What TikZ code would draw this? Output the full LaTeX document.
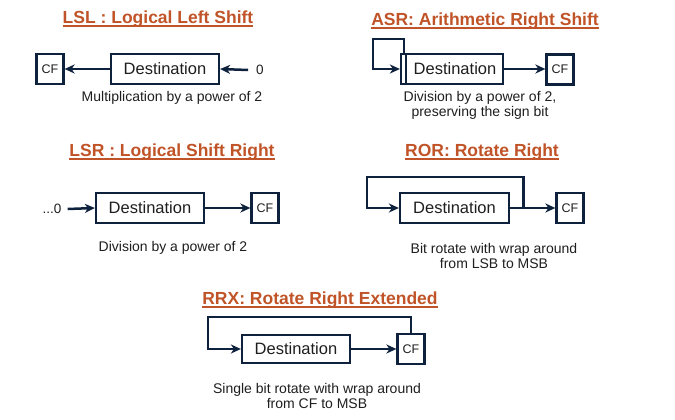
\documentclass[tikz,border=0pt]{standalone}
\usepackage{fontspec}
\setmainfont{Liberation Sans}
\usepackage{xcolor}
\usepackage{tikz}
\usetikzlibrary{positioning,calc,arrows.meta}
\definecolor{titlered}{RGB}{192,84,40}
\definecolor{boxnavy}{RGB}{14,34,62}
\definecolor{captext}{RGB}{30,30,30}
\newcommand{\ultitle}[1]{\setbox0\hbox{#1}\rlap{\vrule height -2pt depth 3.6pt width \wd0}\box0}

\begin{document}
\begin{tikzpicture}[
    x=1pt, y=-1pt,
    title/.style={font=\fontsize{17.5}{20}\selectfont\bfseries, text=titlered, inner sep=0},
    reg/.style={rectangle, draw=boxnavy, line width=2.2pt, minimum width=108pt, minimum height=30pt, inner sep=0, font=\fontsize{16.5}{18}\selectfont, text=captext},
    cf/.style={rectangle, draw=boxnavy, line width=2.2pt, minimum width=27pt, minimum height=30pt, inner sep=0, font=\fontsize{12.5}{14}\selectfont, text=captext},
    captxt/.style={align=center, font=\fontsize{14}{15}\selectfont, text=captext, inner sep=0},
    arr/.style={-{Stealth[length=10pt,width=9pt,inset=3pt]}, draw=boxnavy, line width=2.5pt}
]
    \useasboundingbox (0,0) rectangle (675,420);

    % LSL
    \node[title] (tLSL) at (158,19) {\ultitle{LSL : Logical Left Shift}};
    \node[reg] (dstA) at (165,69) {Destination};
    \node[cf] (cfA) at (50,69) {CF};
    \node[captxt, font=\fontsize{13.5}{15}\selectfont] (inA) at (260,70) {0};
    \coordinate (inAs) at ([xshift=-8pt]inA.west);
    \draw[arr] (dstA.west) -- (cfA.east);
    \draw[arr] (inAs) -- (dstA.east);
    \node[captxt] (capA) at (172,98) {Multiplication by a power of 2};

    % ASR
    \node[title] (tASR) at (485,21) {\ultitle{ASR: Arithmetic Right Shift}};
    \node[reg, minimum width=102pt] (dstB) at (452,69) {\hspace{6pt}Destination};
    \node[cf] (cfB) at (560,69.5) {CF};
    \draw[boxnavy, line width=2.2pt] ([xshift=6pt]dstB.north west) -- ([xshift=6pt]dstB.south west);
    \coordinate (loopB) at (373,39);
    \draw[arr] ([xshift=4pt]dstB.north west) |- (loopB) |- (dstB.west);
    \draw[arr] (dstB.east) -- (dstB.east -| cfB.west);
    \node[captxt] (capB) at (480,105.5) {Division by a power of 2,\\preserving the sign bit};

    % LSR
    \node[title] (tLSR) at (172,152) {\ultitle{LSR : Logical Shift Right}};
    \node[reg] (dstC) at (150,208) {Destination};
    \node[cf] (cfC) at (265,208) {CF};
    \node[captxt, font=\fontsize{13.5}{15}\selectfont] (inC) at (52,209) {...0};
    \coordinate (inCs) at ([xshift=6pt]inC.east);
    \draw[arr] (inCs) -- (dstC.west);
    \draw[arr] (dstC.east) -- (cfC.west);
    \node[captxt] (capC) at (173,248) {Division by a power of 2};

    % ROR
    \node[title] (tROR) at (482,152) {\ultitle{ROR: Rotate Right}};
    \node[reg, minimum width=109pt] (dstD) at (454.5,208) {Destination};
    \node[cf] (cfD) at (570,208) {CF};
    \draw[arr] (dstD.east) -- (cfD.west) coordinate[pos=0.3] (brD);
    \coordinate (loopD) at (367,177);
    \draw[arr] (brD) |- (loopD) |- (dstD.west);
    \node[captxt] (capD) at (494,255.5) {Bit rotate with wrap around\\from LSB to MSB};

    % RRX
    \node[title] (tRRX) at (320,300) {\ultitle{RRX: Rotate Right Extended}};
    \node[reg, minimum height=28pt] (dstE) at (296,349) {Destination};
    \node[cf] (cfE) at (411,349) {CF};
    \draw[arr] (dstE.east) -- (cfE.west);
    \coordinate (loopE) at (208,317);
    \draw[arr] (cfE.north) |- (loopE) |- (dstE.west);
    \node[captxt] (capE) at (317,396) {Single bit rotate with wrap around\\from CF to MSB};
\end{tikzpicture}
\end{document}
